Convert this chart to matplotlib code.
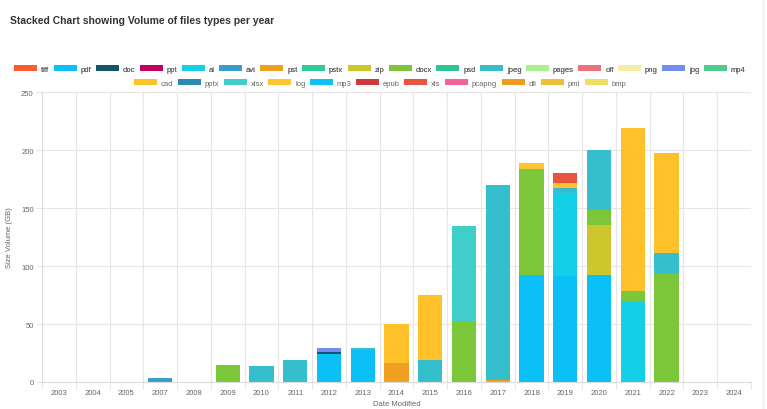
import numpy as np
import matplotlib.pyplot as plt
from matplotlib.patches import Patch
from matplotlib.lines import Line2D

years = ['2003', '2004', '2005', '2007', '2008', '2009', '2010', '2011', '2012', '2013', '2014',
         '2015', '2016', '2017', '2018', '2019', '2020', '2021', '2022', '2023', '2024']

# size per file type and year [GB], order of years as above
tiff   = [0.4, 0, 0, 0, 0, 0, 0, 0, 0, 0, 0, 0, 0, 0, 0, 0, 0, 0, 0, 0, 0]
pdf    = [0, 0.3, 0, 0, 0.3, 0, 0, 0, 24.4, 27.8, 0, 0, 0, 0, 92.2, 91.7, 92, 0, 0, 0, 0]
doc    = [0, 0, 0, 0, 0, 0, 0, 0, 1.2, 0, 0, 0, 0, 0, 0, 0, 0, 0, 0, 0, 0]
ppt    = [0] * 21
ai     = [0, 0, 0.3, 0, 0, 0, 0, 0, 0, 0, 0, 0, 0, 0, 0, 71, 0, 70, 0, 0.3, 0]
avi    = [0, 0, 0, 3.2, 0, 0, 0, 0, 0, 0, 0, 0, 0, 0, 0, 0, 0, 0, 0, 0, 0]
pst    = [0, 0, 0, 0, 0, 0, 0, 0, 0, 0, 16.4, 0, 0, 2, 0, 0, 0, 0, 0, 0, 0]
pstx   = [0] * 21
zip_   = [0, 0, 0, 0, 0, 0, 0, 0, 0, 0, 0, 0, 0, 0, 0, 0, 43, 0, 0, 0, 0]
docx   = [0, 0, 0, 0, 0, 14.4, 0, 0, 0, 0, 0, 0, 51.4, 0, 91.5, 0, 13, 8.7, 93, 0, 0]
psd    = [0] * 21
jpeg   = [0, 0, 0, 0, 0, 0, 14.2, 18.7, 0, 1.2, 0, 19, 0, 168, 0, 4.3, 52, 0, 18.5, 0, 0.4]
pages  = [0] * 21
off    = [0] * 21
png    = [0] * 21
jpg    = [0, 0, 0, 0, 0, 0, 0, 0, 3.7, 0, 0, 0, 0, 0, 0, 0, 0, 0, 0, 0, 0]
mp4    = [0] * 21
cad    = [0, 0, 0, 0.3, 0, 0, 0, 0, 0, 0, 33.6, 56, 0, 0, 0, 4.5, 0, 140, 85, 0, 0]
pptx   = [0] * 21
xlsx   = [0, 0, 0, 0, 0, 0, 0, 0, 0, 0, 0, 0, 83.5, 0, 0, 0, 0, 0, 0, 0, 0]
log    = [0, 0, 0, 0, 0, 0, 0, 0, 0, 0, 0, 0, 0, 0, 5, 0, 0, 0, 0, 0, 0]
mp3    = [0] * 21
epub   = [0] * 21
xls    = [0, 0, 0, 0, 0, 0, 0, 0, 0, 0, 0, 0, 0, 0, 0, 8.5, 0, 0, 0, 0, 0]
pcapng = [0] * 21
dll    = [0] * 21
pml    = [0, 0, 0, 0, 0, 0, 0, 0, 0, 0, 0, 0, 0, 0, 0, 0, 0, 0, 0.5, 0, 0]
bmp    = [0] * 21

types = ['tiff', 'pdf', 'doc', 'ppt', 'ai', 'avi', 'pst', 'pstx', 'zip', 'docx', 'psd', 'jpeg',
         'pages', 'off', 'png', 'jpg', 'mp4', 'cad', 'pptx', 'xlsx', 'log', 'mp3', 'epub', 'xls',
         'pcapng', 'dll', 'pml', 'bmp']
series = [tiff, pdf, doc, ppt, ai, avi, pst, pstx, zip_, docx, psd, jpeg, pages, off, png, jpg,
          mp4, cad, pptx, xlsx, log, mp3, epub, xls, pcapng, dll, pml, bmp]
colors = ['#ff5b2e', '#0bbff7', '#12566a', '#c2005f', '#14cfe8', '#389dcd', '#f0a020', '#2dcc96',
          '#cdc72e', '#7cc63a', '#2dc595', '#35becb', '#a9f08e', '#f0707a', '#f5eea2', '#748df1',
          '#4fcb8f', '#fec12a', '#2e89ae', '#40cec8', '#fdc530', '#0bc2f5', '#cc3b3b', '#e8553f',
          '#f3649a', '#f09a20', '#edbf39', '#efde63']

grid_c = '#e6e6e6'
txt_c = '#666666'
plt.rcParams['font.family'] = ['Liberation Sans', 'DejaVu Sans']

fig = plt.figure(figsize=(7.67, 4.10), dpi=100)
ax = fig.add_axes([42 / 767, 1 - 383 / 410, (751 - 42) / 767, (383 - 93) / 410])

x = np.arange(len(years))
bottom = np.zeros(len(years))
for name, vals, c in zip(types, series, colors):
    vals = np.array(vals, dtype=float)
    ax.bar(x, vals, 0.72, bottom=bottom, color=c, label=name, zorder=2)
    bottom += vals

ax.set_xlim(-0.5, len(years) - 0.5)
ax.set_ylim(0, 250)
ax.set_yticks(np.arange(0, 251, 50))
ax.set_xticks(x)
ax.set_xticklabels(years)
ax.set_xticks(np.arange(-0.5, len(years)), minor=True)
ax.tick_params(axis='x', which='major', length=0, pad=5, labelsize=5.5, labelcolor=txt_c)
ax.tick_params(axis='x', which='minor', length=5, color=grid_c, width=0.8)
ax.tick_params(axis='y', length=4, color=grid_c, width=0.8, pad=2, labelsize=5.5, labelcolor=txt_c)
ax.grid(axis='x', which='minor', color=grid_c, lw=0.8, zorder=0)
ax.grid(axis='y', which='major', color=grid_c, lw=0.8, zorder=0)
ax.set_axisbelow(True)
for s in ['top', 'right']:
    ax.spines[s].set_visible(False)
for s in ['left', 'bottom']:
    ax.spines[s].set_color('#dcdcdc')
    ax.spines[s].set_linewidth(0.8)

ax.set_xlabel('Date Modified', fontsize=5.5, color=txt_c, labelpad=3)
ax.set_ylabel('Size Volume (GB)', fontsize=5.5, color=txt_c, labelpad=6)

fig.text(10 / 767, 1 - 21 / 410, 'Stacked Chart showing Volume of files types per year',
         fontsize=7.5, fontweight='bold', color='#333333', va='center')

handles = [Patch(facecolor=c, edgecolor='none') for c in colors]
kw = dict(loc='center', frameon=False, fontsize=5.5, handlelength=3.0, handleheight=0.9,
          handletextpad=0.5, columnspacing=0.6, borderaxespad=0, borderpad=0, labelcolor=txt_c)
leg1 = fig.legend(handles[:17], types[:17], ncol=17, bbox_to_anchor=(380 / 767, 1 - 70 / 410), **kw)
fig.add_artist(leg1)
fig.legend(handles[17:], types[17:], ncol=11, bbox_to_anchor=(380 / 767, 1 - 84 / 410), **kw)

fig.add_artist(Line2D([763 / 767, 763 / 767], [0, 1], color='#eeeeee', lw=1))

fig.savefig('out.png', dpi=100)
